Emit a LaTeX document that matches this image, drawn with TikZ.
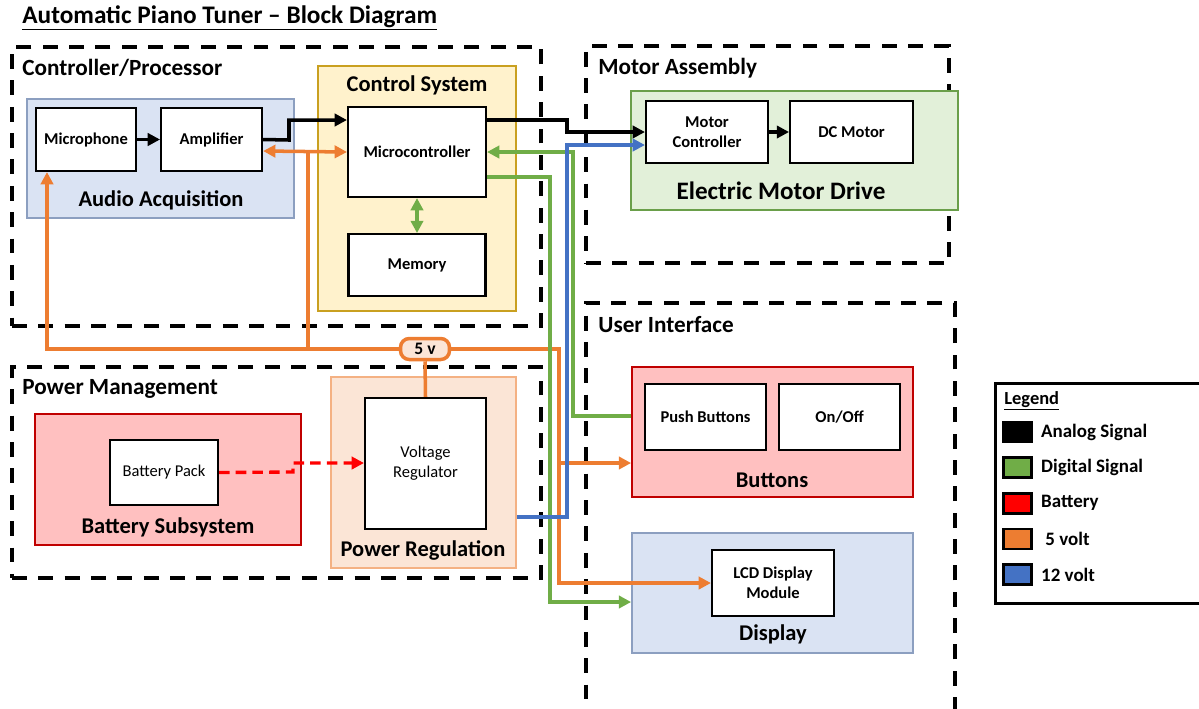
\documentclass[tikz,border=0pt]{standalone}
\usepackage{fontspec}
\setmainfont{Carlito}
\usepackage{xcolor}
\usetikzlibrary{positioning,fit,arrows.meta,calc}

\definecolor{sigorange}{HTML}{ED7D31}
\definecolor{siggreen}{HTML}{70AD47}
\definecolor{sigblue}{HTML}{4472C4}
\definecolor{sigred}{HTML}{FF0000}
\definecolor{audfill}{HTML}{DAE3F3}
\definecolor{audline}{HTML}{8C9FC0}
\definecolor{ctlfill}{HTML}{FFF2CC}
\definecolor{ctlline}{HTML}{C9A020}
\definecolor{motfill}{HTML}{E2F0D9}
\definecolor{motline}{HTML}{6A9F4A}
\definecolor{batfill}{HTML}{FFC0C0}
\definecolor{batline}{HTML}{C00000}
\definecolor{regfill}{HTML}{FBE5D6}
\definecolor{regline}{HTML}{F4B183}

\tikzset{
  grp/.style={draw, inner sep=0pt, line width=2.3pt, dash pattern=on 8.5pt off 6.5pt},
  grplbl/.style={anchor=west, inner sep=0pt, font=\fontsize{13.2}{15}\selectfont\bfseries},
  sublbl/.style={inner sep=0pt, font=\fontsize{12.8}{15}\selectfont\bfseries},
  subsys/.style={draw, inner sep=0pt, line width=1pt},
  blk/.style={draw, fill=white, inner sep=0pt, line width=1.2pt, align=center,
    font=\fontsize{9.4}{11.5}\selectfont\bfseries},
  lblk/.style={blk, font=\fontsize{9.4}{11.5}\selectfont},
  tip/.style={-{Triangle[length=7pt,width=7pt]}},
  analog/.style={line width=2pt, black},
  digital/.style={line width=2pt, siggreen},
  fivev/.style={line width=2pt, sigorange},
  twelvev/.style={line width=2pt, sigblue},
  batt/.style={line width=1.9pt, sigred, dash pattern=on 6pt off 3.5pt},
  swatch/.style={draw, line width=1.5pt, inner sep=0pt, minimum width=0.56cm, minimum height=0.40cm},
  legtxt/.style={anchor=west, inner sep=0pt, font=\fontsize{10.8}{13}\selectfont\bfseries}
}

\begin{document}
\begin{tikzpicture}[x=0.02cm, y=-0.02cm]
  \useasboundingbox (0,0) rectangle (1199,708);

  \node[anchor=west, inner sep=0pt, font=\fontsize{14.4}{17}\selectfont\bfseries] (title) at (22,18)
    {\underline{Automatic Piano Tuner – Block Diagram}};

  % dashed groups
  \node[grp, fit={(12,47) (541,326)}] (cp) {};
  \node[grp, fit={(586,46) (949,263)}] (ma) {};
  \node[grp, fit={(12,367) (541,578)}] (pm) {};
  \node[grp, fit={(586,303) (955,712)}] (ui) {};
  \node[grplbl] (cp-lbl) at (22,68) {Controller/Processor};
  \node[grplbl] (ma-lbl) at (598,68) {Motor Assembly};
  \node[grplbl] (pm-lbl) at (22,389) {Power Management};
  \node[grplbl] (ui-lbl) at (598,325) {User Interface};

  % subsystems
  \node[subsys, draw=audline, fill=audfill, fit={(27,99) (294,218)}] (aud) {};
  \node[subsys, draw=ctlline, fill=ctlfill, fit={(318,66) (516,311)}] (ctl) {};
  \node[subsys, draw=motline, fill=motfill, fit={(631,91) (958,210)}] (emd) {};
  \node[subsys, draw=batline, fill=batfill, fit={(35,414) (301,545)}] (bat) {};
  \node[subsys, draw=regline, fill=regfill, fit={(331,377) (516,568)}] (preg) {};
  \node[subsys, draw=batline, fill=batfill, fit={(632,367) (913,497)}] (btns) {};
  \node[subsys, draw=audline, fill=audfill, fit={(632,533) (913,653)}] (disp) {};
  \node[sublbl] (aud-lbl) at (161,200) {Audio Acquisition};
  \node[sublbl] (ctl-lbl) at (417,85) {Control System};
  \node[sublbl, font=\fontsize{14.3}{16}\selectfont\bfseries] (emd-lbl) at (781,191) {Electric Motor Drive};
  \node[sublbl] (bat-lbl) at (168,527) {Battery Subsystem};
  \node[sublbl] (preg-lbl) at (423,550) {Power Regulation};
  \node[sublbl] (btns-lbl) at (772,480) {Buttons};
  \node[sublbl] (disp-lbl) at (773,634) {Display};

  % blocks
  \node[blk, minimum width=2cm, minimum height=1.26cm] (mic) at (86,139.5) {Microphone};
  \node[blk, minimum width=2.02cm, minimum height=1.26cm, right=0.46cm of mic] (amp) {Amplifier};
  \node[blk, minimum width=2.76cm, minimum height=1.8cm] (mcu) at (417,152) {Microcontroller};
  \node[blk, minimum width=2.74cm, minimum height=1.24cm, below=0.7cm of mcu] (mem) {Memory};
  \node[blk, minimum width=2.44cm, minimum height=1.24cm] (mc) at (707,132) {Motor\\Controller};
  \node[blk, minimum width=2.46cm, minimum height=1.24cm, right=0.4cm of mc] (dcm) {DC Motor};
  \node[lblk, minimum width=2.16cm, minimum height=1.3cm] (bpack) at (164,472.5) {Battery Pack};
  \node[lblk, minimum width=2.42cm, minimum height=2.62cm] (vreg) at (425.5,463.5) {Voltage\\Regulator};
  \node[blk, minimum width=2.42cm, minimum height=1.32cm] (pb) at (705.5,417) {Push Buttons};
  \node[blk, minimum width=2.42cm, minimum height=1.32cm, right=0.22cm of pb] (onoff) {On/Off};
  \node[blk, minimum width=2.44cm, minimum height=1.32cm] (lcd) at (773,583) {LCD Display\\Module};

  \node[draw=sigorange, line width=2pt, fill=regfill, rounded corners=5pt, inner sep=0pt,
    minimum width=0.98cm, minimum height=0.42cm, font=\fontsize{10}{12}\selectfont\bfseries]
    (pill) at (425,349) {5 v};

  % connectors
  \draw[analog, tip] (mic) -- (amp);
  \draw[analog, tip] (amp.east) -- (289,140) |- (mcu.west |- 0,120);
  \draw[analog, tip] (mcu.east |- 0,120) -- (567,120) |- (mc.west);
  \draw[analog, tip] (mc) -- (dcm);

  \draw[fivev, {Triangle[length=7pt,width=7pt]}-{Triangle[length=7pt,width=7pt]}] (amp.east |- 0,151) -- (mcu.west);
  \draw[fivev] (308,151) -- (308,349);
  \draw[fivev, tip] (pill.west) -| (mic.south -| 47,0);
  \draw[fivev, tip] (pill.east) -| (559,583) -- (lcd.west);
  \draw[fivev, tip] (559,463) -- (btns.west |- 0,463);
  \draw[fivev] (vreg.north) -- (pill.south);

  \draw[digital, {Triangle[length=7pt,width=7pt]}-{Triangle[length=7pt,width=7pt]}] (mcu) -- (mem);
  \draw[digital, tip] (btns.west |- 0,416) -| (573,152) -- (mcu.east);
  \draw[digital, tip] (mcu.east |- 0,177) -| (550,602) -- (disp.west |- 0,602);

  \draw[twelvev, tip] (preg.east |- 0,517) -| (567,145) -- (mc.west |- 0,145);

  \draw[batt, tip] (bpack.east) -- (293,472) |- (vreg.west |- 0,463);

  % legend
  \draw[line width=1.7pt] (995,383) rectangle (1206,603);
  \node[anchor=west, inner sep=0pt, font=\fontsize{10.5}{12}\selectfont\bfseries] (leg) at (1004,401) {\underline{Legend}};
  \node[swatch, fill=black] (sw-an) at (1017.5,432) {};
  \node[swatch, fill=siggreen, below=0.26cm of sw-an] (sw-dg) {};
  \node[swatch, fill=sigred, below=0.26cm of sw-dg] (sw-bt) {};
  \node[swatch, fill=sigorange, below=0.26cm of sw-bt] (sw-5v) {};
  \node[swatch, fill=sigblue, below=0.26cm of sw-5v] (sw-12v) {};
  \node[legtxt, right=0.16cm of sw-an] {Analog Signal};
  \node[legtxt, right=0.16cm of sw-dg] {Digital Signal};
  \node[legtxt, right=0.16cm of sw-bt] {Battery};
  \node[legtxt, right=0.16cm of sw-5v] {\ 5 volt};
  \node[legtxt, right=0.16cm of sw-12v] {12 volt};
\end{tikzpicture}
\end{document}
